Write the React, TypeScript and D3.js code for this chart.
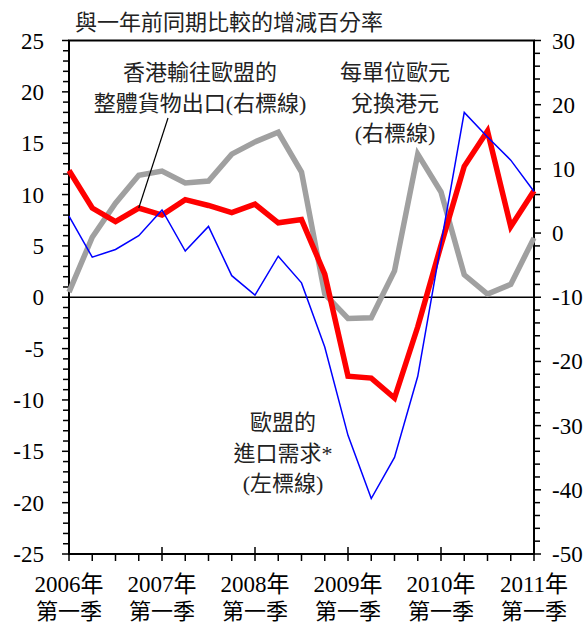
import React, { useRef, useEffect } from 'react';
import * as d3 from 'd3';

// quarters 2006Q1 .. 2011Q1
const yearLabels = ['2006年', '2007年', '2008年', '2009年', '2010年', '2011年'];
const quarterLabel = '第一季';

// EU import demand (left axis)
const euImports = [7.9, 3.9, 4.65, 6.0, 8.5, 4.5, 6.9, 2.1, 0.2, 4.0, 1.4, -4.85, -13.45, -19.6, -15.6, -7.7, 5.2, 18.0, 15.6, 13.35, 10.3];
// HK total exports to EU (right axis)
const hkExports = [9.75, 3.9, 1.8, 3.9, 2.8, 5.2, 4.3, 3.2, 4.5, 1.6, 2.1, -6.4, -22.3, -22.6, -25.7, -14.6, -1.9, 10.4, 15.9, 1.0, 6.6];
// HKD per euro (right axis)
const euroRate = [-9.2, -0.65, 4.65, 9.0, 9.65, 7.8, 8.1, 12.3, 14.2, 15.7, 9.5, -9.5, -13.3, -13.2, -5.9, 12.3, 6.4, -6.5, -9.5, -8.0, -0.75];

const leftTicks = [25, 20, 15, 10, 5, 0, -5, -10, -15, -20, -25];
const rightTicks = [30, 20, 10, 0, -10, -20, -30, -40, -50];

const W = 584;
const H = 624;
const FONT = '"Liberation Serif", "Noto Sans CJK TC", serif';

export default function App() {
    const svgRef = useRef<SVGSVGElement>(null);

    useEffect(() => {
        if (!svgRef.current) return;
        const svg = d3.select(svgRef.current);
        svg.selectAll('*').remove();

        const left = 69, right = 534, top = 40.5, bottom = 554;

        const x = d3.scaleLinear().domain([0, 20]).range([left, right]);
        const yL = d3.scaleLinear().domain([-25, 25]).range([bottom, top]);
        const yR = d3.scaleLinear().domain([-50, 30]).range([bottom, top]);

        const g = svg.append('g');

        // title
        g.append('text')
            .attr('x', 75).attr('y', 30)
            .attr('font-size', 22)
            .attr('fill', '#222')
            .text('與一年前同期比較的增減百分率');

        // frame
        g.append('rect')
            .attr('x', left).attr('y', top)
            .attr('width', right - left).attr('height', bottom - top)
            .attr('fill', 'none').attr('stroke', '#000').attr('stroke-width', 2);

        // left ticks (every 1)
        d3.range(-25, 26).forEach(v => {
            const major = v % 5 === 0;
            g.append('line')
                .attr('x1', left - (major ? 7 : 6)).attr('x2', left)
                .attr('y1', yL(v)).attr('y2', yL(v))
                .attr('stroke', '#000').attr('stroke-width', 1.5);
        });
        g.selectAll('.lt').data(leftTicks).join('text')
            .attr('x', 44).attr('y', d => yL(d))
            .attr('dy', '0.35em')
            .attr('text-anchor', 'end')
            .attr('font-size', 23)
            .text(d => d);

        // right ticks (every 2)
        d3.range(-50, 31, 2).forEach(v => {
            const major = v % 10 === 0;
            g.append('line')
                .attr('x1', right).attr('x2', right + (major ? 7 : 6))
                .attr('y1', yR(v)).attr('y2', yR(v))
                .attr('stroke', '#000').attr('stroke-width', 1.5);
        });
        g.selectAll('.rt').data(rightTicks).join('text')
            .attr('x', 552).attr('y', d => yR(d))
            .attr('dy', '0.35em')
            .attr('font-size', 23)
            .text(d => d);

        // bottom ticks (quarters)
        d3.range(0, 21).forEach(i => {
            const major = i % 4 === 0;
            g.append('line')
                .attr('x1', x(i)).attr('x2', x(i))
                .attr('y1', major ? bottom - 7 : bottom).attr('y2', bottom + 7)
                .attr('stroke', '#000').attr('stroke-width', 1.5);
        });
        yearLabels.forEach((lab, k) => {
            g.append('text')
                .attr('x', x(k * 4)).attr('y', 592)
                .attr('text-anchor', 'middle')
                .attr('font-size', 23)
                .text(lab);
            g.append('text')
                .attr('x', x(k * 4)).attr('y', 619)
                .attr('text-anchor', 'middle')
                .attr('font-size', 22)
                .text(quarterLabel);
        });

        // zero line
        g.append('line')
            .attr('x1', left).attr('x2', right)
            .attr('y1', yL(0)).attr('y2', yL(0))
            .attr('stroke', '#000').attr('stroke-width', 1.5);

        const lineL = d3.line<number>().x((d, i) => x(i)).y(d => yL(d));
        const lineR = d3.line<number>().x((d, i) => x(i)).y(d => yR(d));

        g.append('path').attr('d', lineR(euroRate)!)
            .attr('fill', 'none').attr('stroke', '#a0a0a0').attr('stroke-width', 5.5)
            .attr('stroke-linejoin', 'miter');
        g.append('path').attr('d', lineR(hkExports)!)
            .attr('fill', 'none').attr('stroke', '#ff0000').attr('stroke-width', 5.5)
            .attr('stroke-linejoin', 'miter');
        g.append('path').attr('d', lineL(euImports)!)
            .attr('fill', 'none').attr('stroke', '#0000ff').attr('stroke-width', 1.5);

        // annotations
        const note = (lines: string[], cx: number, y0: number) => {
            lines.forEach((t, k) => {
                g.append('text')
                    .attr('x', cx).attr('y', y0 + k * 30.5)
                    .attr('text-anchor', 'middle')
                    .attr('font-size', 22)
                    .attr('fill', '#222')
                    .text(t);
            });
        };
        note(['香港輸往歐盟的', '整體貨物出口(右標線)'], 200, 80);
        note(['每單位歐元', '兌換港元', '(右標線)'], 395, 80);
        note(['歐盟的', '進口需求*', '(左標線)'], 283, 430);

        // pointer to HK exports line
        g.append('line')
            .attr('x1', x(3)).attr('y1', yR(hkExports[3]))
            .attr('x2', 168).attr('y2', 118)
            .attr('stroke', '#000').attr('stroke-width', 1.2);
    }, []);

    return (
        <svg
            ref={svgRef}
            width={W}
            height={H}
            viewBox={`0 0 ${W} ${H}`}
            style={{ position: 'absolute', left: 0, top: 0, background: '#fff', fontFamily: FONT }}
        />
    );
}
